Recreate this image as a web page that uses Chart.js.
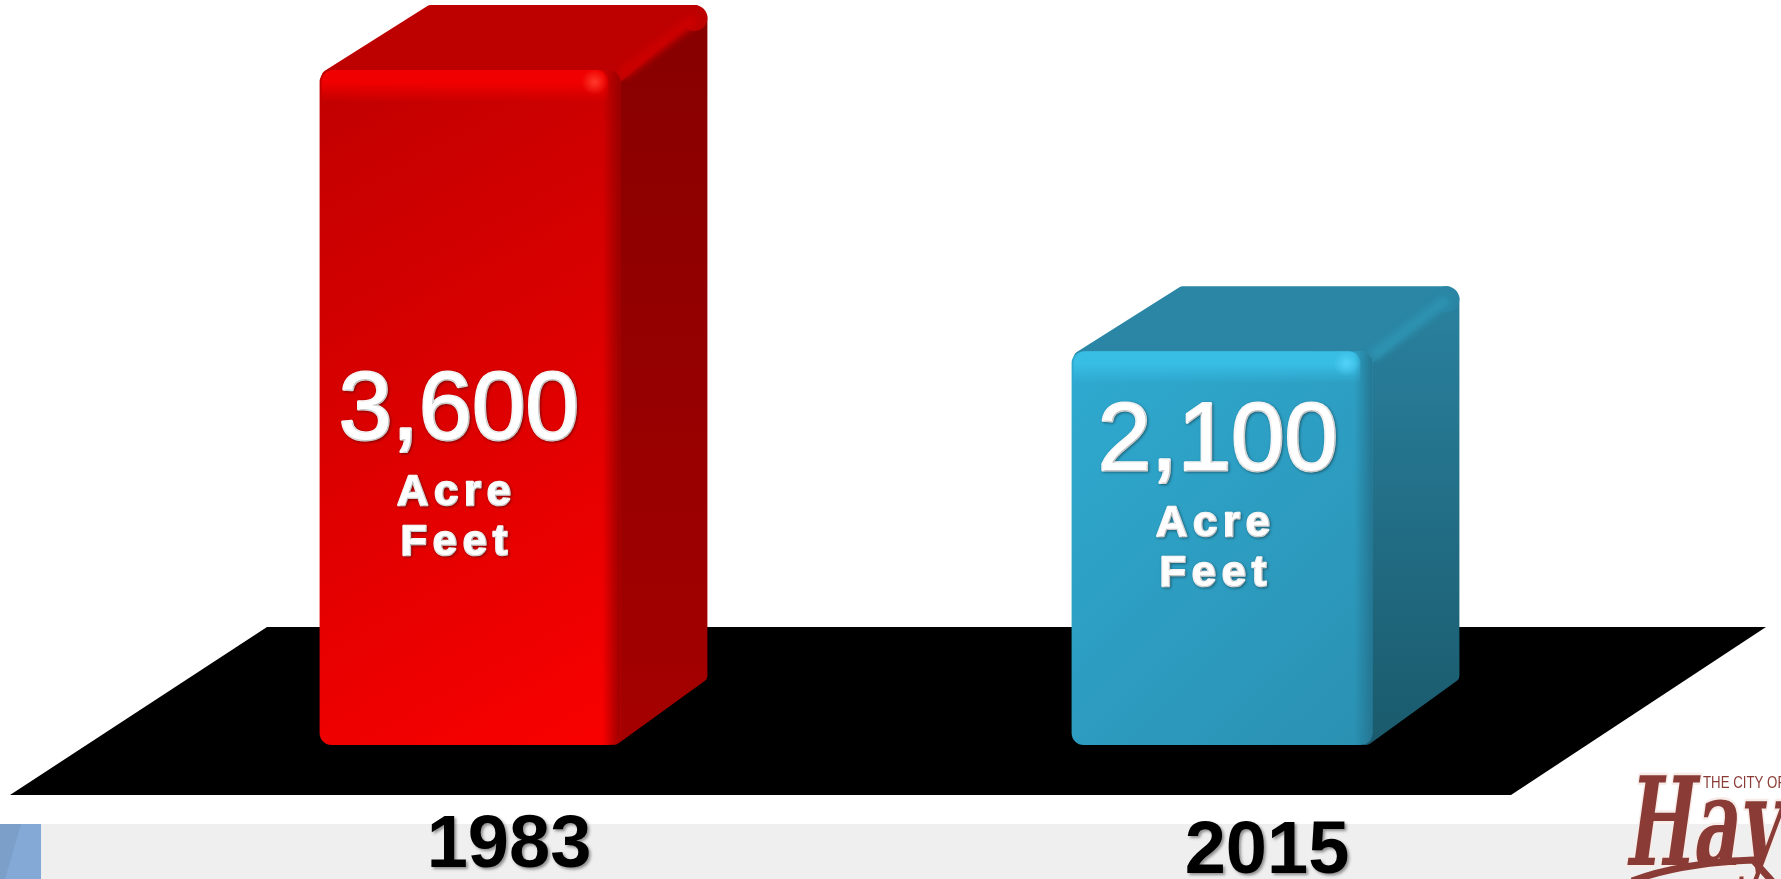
<!DOCTYPE html>
<html>
<head>
<meta charset="utf-8">
<title>Acre Feet 1983 vs 2015</title>
<style>
  html, body { margin: 0; padding: 0; background: #fff; overflow: hidden; }
  canvas { display: block; }
</style>
</head>
<body>
<canvas id="chart" width="1781" height="879"></canvas>
<script src="https://cdn.jsdelivr.net/npm/chart.js@4/dist/chart.umd.min.js"></script>
<script>
const years = ['1983', '2015'];
const acreFeet = [3600, 2100];
const unitWords = ['Acre', 'Feet'];

// colours per bar: front (dark, light), top, side (top, bottom), highlight
const frontStart = ['#bf0000', '#2fabd2'];
const frontEnd = ['#fb0000', '#2a8fb0'];
const topColors = ['#bd0000', '#2a86a4'];
const topEdge = ['#f00000', '#38bde4'];
const ridge = ['#cb0000', '#2d92b0'];
const sideStart = ['#870000', '#2a82a0'];
const sideEnd = ['#a50000', '#1a5a6c'];
const filletColors = ['#960000', '#247490'];
const glint = ['#ff3a2a', '#52d2f7'];

// label placement relative to the bars
const valueY = [413, 444];
const valueShift = [-11, -4];
const yearY = [847, 853];
const yearShift = [39, 45];
const DEPTH_X = 87;
const DEPTH_Y = 65;

function face(ctx, pts, style, round) {
  ctx.beginPath();
  pts.forEach((p, i) => i ? ctx.lineTo(p[0], p[1]) : ctx.moveTo(p[0], p[1]));
  ctx.closePath();
  ctx.fillStyle = style;
  ctx.fill();
  ctx.strokeStyle = style;
  ctx.lineJoin = 'round';
  ctx.lineWidth = round;
  ctx.stroke();
}

function barBox(bar) {
  const b = bar.getProps(['x', 'y', 'base', 'width'], true);
  return { l: b.x - b.width / 2, r: b.x + b.width / 2, t: b.y, b: b.base };
}

const scenery = {
  id: 'scenery',
  beforeDatasetsDraw(chart) {
    const ctx = chart.ctx;
    const base = chart.scales.y.getPixelForValue(0);
    ctx.save();
    // bottom band of the slide
    ctx.fillStyle = '#efefef';
    ctx.fillRect(0, 824, 1781, 55);
    ctx.fillStyle = '#84a9d6';
    ctx.fillRect(0, 824, 41, 55);
    ctx.fillStyle = '#7b9fc9';
    ctx.beginPath();
    ctx.moveTo(0, 824); ctx.lineTo(21, 824); ctx.lineTo(5, 879); ctx.lineTo(0, 879);
    ctx.fill();
    // floor
    ctx.fillStyle = '#000';
    ctx.beginPath();
    ctx.moveTo(267, base - 118);
    ctx.lineTo(1766, base - 118);
    ctx.lineTo(1511, base + 50);
    ctx.lineTo(10, base + 50);
    ctx.closePath();
    ctx.fill();
    // top and side faces of each bar
    chart.getDatasetMeta(0).data.forEach((bar, i) => {
      const box = barBox(bar);
      const side = ctx.createLinearGradient(0, box.t - DEPTH_Y, 0, box.b);
      side.addColorStop(0, sideStart[i]);
      side.addColorStop(1, sideEnd[i]);
      const r = 6;
      face(ctx, [
        [box.r - 6, box.t + r],
        [box.r + DEPTH_X - r, box.t - DEPTH_Y + 12],
        [box.r + DEPTH_X - r, box.b - DEPTH_Y - 4],
        [box.r - 6, box.b - r]
      ], side, r * 2);
      face(ctx, [
        [box.l + r + 2, box.t + r],
        [box.l + DEPTH_X + 18 + r, box.t - DEPTH_Y + r],
        [box.r + DEPTH_X - 12, box.t - DEPTH_Y + r],
        [box.r - 2, box.t + r]
      ], topColors[i], r * 2);
      // rounded back corner shared by top and side
      ctx.fillStyle = topColors[i];
      ctx.beginPath();
      ctx.arc(box.r + DEPTH_X - 13, box.t - DEPTH_Y + 13, 13, 0, Math.PI * 2);
      ctx.fill();
      // soft ridge between top and side
      ctx.save();
      ctx.beginPath();
      ctx.rect(box.r - 10, box.t - DEPTH_Y, DEPTH_X + 10, DEPTH_Y + 30);
      ctx.clip();
      ctx.filter = 'blur(3px)';
      ctx.strokeStyle = ridge[i];
      ctx.lineCap = 'round';
      ctx.lineWidth = 12;
      ctx.beginPath();
      ctx.moveTo(box.r + 4, box.t + 2);
      ctx.lineTo(box.r + DEPTH_X - 16, box.t - DEPTH_Y + 16);
      ctx.stroke();
      ctx.restore();
    });
    ctx.restore();
  },
  afterDatasetsDraw(chart) {
    const ctx = chart.ctx;
    ctx.save();
    chart.getDatasetMeta(0).data.forEach((bar, i) => {
      const box = barBox(bar);
      // bright rounded top edge
      const edge = ctx.createLinearGradient(0, box.t, 0, box.t + 32);
      edge.addColorStop(0, topEdge[i]);
      edge.addColorStop(0.4, topEdge[i]);
      edge.addColorStop(1, topEdge[i] + '00');
      ctx.fillStyle = edge;
      ctx.beginPath();
      ctx.roundRect(box.l + 2, box.t, box.r - box.l - 14, 32, [12, 12, 0, 0]);
      ctx.fill();
      // fillet towards the side face, clipped to the rounded front
      ctx.save();
      ctx.beginPath();
      ctx.roundRect(box.l, box.t, box.r - box.l, box.b - box.t, 12);
      ctx.clip();
      const fillet = ctx.createLinearGradient(box.r - 18, 0, box.r + 1, 0);
      fillet.addColorStop(0, filletColors[i] + '00');
      fillet.addColorStop(1, filletColors[i]);
      ctx.fillStyle = fillet;
      ctx.fillRect(box.r - 18, box.t, 19, box.b - box.t);
      ctx.restore();
      // small shine on the corner
      const spot = ctx.createRadialGradient(box.r - 26, box.t + 12, 0, box.r - 26, box.t + 12, 13);
      spot.addColorStop(0, glint[i]);
      spot.addColorStop(1, glint[i] + '00');
      ctx.fillStyle = spot;
      ctx.fillRect(box.r - 40, box.t - 2, 28, 28);

      // value and unit
      const cx = bar.x + valueShift[i];
      ctx.textAlign = 'center';
      ctx.textBaseline = 'middle';
      ctx.fillStyle = '#fff';
      ctx.strokeStyle = '#fff';
      ctx.lineJoin = 'round';
      ctx.shadowColor = 'rgba(0,0,0,0.35)';
      ctx.shadowBlur = 3;
      ctx.shadowOffsetX = 1;
      ctx.shadowOffsetY = 1;
      ctx.font = '96px "Liberation Sans"';
      ctx.lineWidth = 3;
      const value = acreFeet[i].toLocaleString('en-US');
      ctx.strokeText(value, cx, valueY[i]);
      ctx.fillText(value, cx, valueY[i]);
      ctx.font = 'bold 43px "Liberation Sans"';
      ctx.letterSpacing = '6px';
      ctx.lineWidth = 2.5;
      unitWords.forEach((word, k) => {
        const wy = valueY[i] + 80 + k * 50;
        ctx.strokeText(word, cx - 2, wy);
        ctx.fillText(word, cx - 2, wy);
      });
      ctx.letterSpacing = '0px';

      // year under the bar
      ctx.font = 'bold 74px "Liberation Sans"';
      ctx.fillStyle = '#000';
      ctx.shadowColor = 'rgba(0,0,0,0.4)';
      ctx.shadowBlur = 3;
      ctx.shadowOffsetX = 2;
      ctx.shadowOffsetY = 2;
      ctx.fillText(chart.data.labels[i], chart.scales.x.getPixelForValue(i) + yearShift[i], yearY[i]);
      ctx.shadowColor = 'transparent';
    });

    // logo in the corner, cut off by the page edge
    ctx.textAlign = 'left';
    ctx.textBaseline = 'alphabetic';
    ctx.fillStyle = '#8a3b35';
    ctx.strokeStyle = '#f7ece8';
    ctx.lineJoin = 'round';
    ctx.save();
    ctx.transform(0.58, 0, -0.14, 1, 1624, 865);
    ctx.font = 'bold 123px "DejaVu Serif"';
    ctx.lineWidth = 5;
    ctx.strokeText('Hay', 0, 0);
    ctx.fillText('Hay', 0, 0);
    ctx.restore();
    ctx.save();
    ctx.transform(0.78, 0, 0, 1, 1703, 788);
    ctx.font = '17px "Liberation Sans"';
    ctx.fillText('THE CITY OF', 0, 0);
    ctx.restore();
    ctx.strokeStyle = '#8a3b35';
    ctx.lineWidth = 7;
    ctx.beginPath();
    ctx.moveTo(1632, 881);
    ctx.quadraticCurveTo(1680, 863, 1753, 860);
    ctx.lineTo(1772, 881);
    ctx.stroke();
    ctx.restore();
  }
};

new Chart(document.getElementById('chart'), {
  type: 'bar',
  data: {
    labels: years,
    datasets: [{
      data: acreFeet,
      barPercentage: 0.4,
      categoryPercentage: 1,
      borderRadius: 12,
      borderSkipped: false,
      backgroundColor(c) {
        const i = c.dataIndex;
        const sx = c.chart.scales.x;
        const sy = c.chart.scales.y;
        if (i === undefined || !sx || !sy) return '#000';
        const cx = sx.getPixelForValue(i);
        const top = sy.getPixelForValue(acreFeet[i]);
        const bottom = sy.getPixelForValue(0);
        if (![cx, top, bottom].every(Number.isFinite)) return '#000';
        const g = c.chart.ctx.createLinearGradient(cx - 190, top, cx + 190, bottom);
        g.addColorStop(0, frontStart[i]);
        g.addColorStop(1, frontEnd[i]);
        return g;
      }
    }]
  },
  options: {
    responsive: false,
    animation: false,
    devicePixelRatio: 1,
    layout: { padding: { top: 70, bottom: 134, left: 94, right: 183 } },
    plugins: { legend: { display: false }, tooltip: { enabled: false }, title: { display: false } },
    scales: {
      x: { display: false },
      y: { display: false, min: 0, max: 3600 }
    }
  },
  plugins: [scenery]
});
</script>
</body>
</html>
